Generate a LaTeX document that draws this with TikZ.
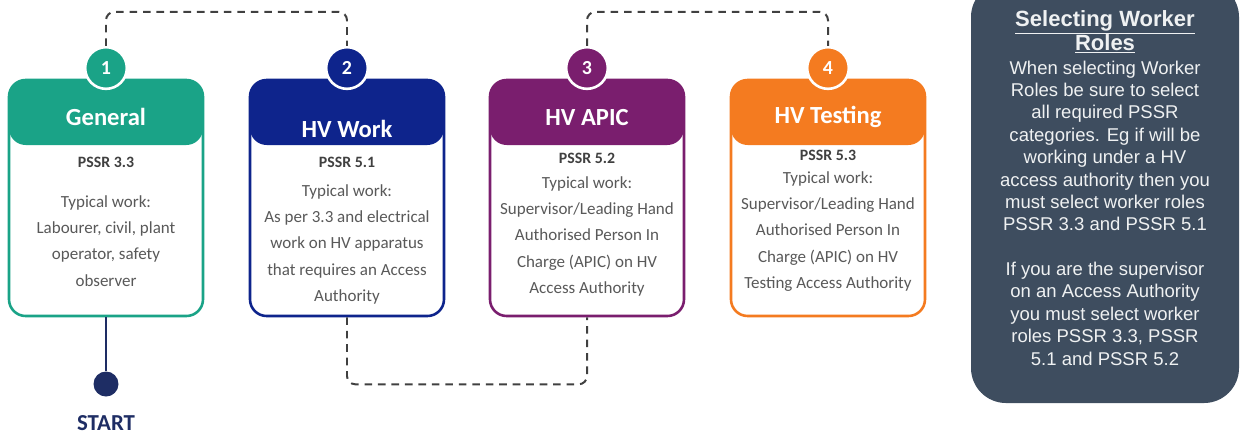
\documentclass[tikz,border=0pt]{standalone}
\usepackage{fontspec}
\setmainfont{Carlito}
\newfontfamily\panelfont{Liberation Sans}
\usetikzlibrary{calc,positioning}
\definecolor{genteal}{RGB}{26,163,135}
\definecolor{worknavy}{RGB}{14,36,140}
\definecolor{apicpurple}{RGB}{122,30,110}
\definecolor{testorange}{RGB}{244,123,32}
\definecolor{panelslate}{RGB}{62,77,95}
\definecolor{startnavy}{RGB}{30,45,100}
\definecolor{bodygrey}{RGB}{89,89,89}
\definecolor{linkgrey}{RGB}{64,64,64}

\begin{document}
\begin{tikzpicture}[x=0.03cm,y=-0.03cm,
  rolebox/.style={draw=#1, fill=white, line width=2.2pt, rounded corners=0.5cm, minimum width=5.82cm, minimum height=7.08cm, inner sep=0pt,
    path picture={\fill[#1] (path picture bounding box.north west) rectangle ($(path picture bounding box.north east)+(0,65)$);}},
  numcircle/.style={circle, fill=#1, draw=white, line width=2.2pt, minimum size=1.25cm, inner sep=0pt, text=white, font=\fontsize{17}{17}\selectfont\bfseries},
  headtext/.style={anchor=base, inner sep=0pt, text=white, font=\fontsize{21}{24}\selectfont\bfseries},
  pssrtext/.style={anchor=base, inner sep=0pt, text=linkgrey, font=\fontsize{13.5}{16}\selectfont\bfseries},
  bodytext/.style={anchor=north, align=center, inner sep=0pt, text=bodygrey, font=\fontsize{14.5}{22.5}\selectfont},
  link/.style={draw=linkgrey, line width=1.7pt, dash pattern=on 6.5pt off 5pt, rounded corners=0.25cm}]
        \useasboundingbox (0,0) rectangle (1247,434);
        %Boxes
        \node[rolebox=genteal] (box1) at (106,198) {};
        \node[rolebox=worknavy] (box2) at (347,198) {};
        \node[rolebox=apicpurple] (box3) at (587,198) {};
        \node[rolebox=testorange] (box4) at (828,198) {};
        %Circles
        \node[numcircle=genteal] (c1) at (106,68) {1};
        \node[numcircle=worknavy] (c2) at (347,68) {2};
        \node[numcircle=apicpurple] (c3) at (587,68) {3};
        \node[numcircle=testorange] (c4) at (828,68) {4};
        %Headers
        \node[headtext] (h1) at (106,125) {General};
        \node[headtext] (h2) at (347,137) {HV Work};
        \node[headtext] (h3) at (587,125) {HV APIC};
        \node[headtext] (h4) at (828,123) {HV Testing};
        %PSSR + Textes
        \node[pssrtext] (p1) at (106,167) {PSSR 3.3};
        \node[pssrtext] (p2) at (347,167) {PSSR 5.1};
        \node[pssrtext] (p3) at (587,163) {PSSR 5.2};
        \node[pssrtext] (p4) at (828,160) {PSSR 5.3};
        \node[bodytext] (b1) at (106,195) {Typical work:\\Labourer, civil, plant\\operator, safety\\observer};
        \node[bodytext] (b2) at (347,184) {Typical work:\\As per 3.3 and electrical\\work on HV apparatus\\that requires an Access\\Authority};
        \node[bodytext] (b3) at (587,176) {Typical work:\\Supervisor/Leading Hand\\Authorised Person In\\Charge (APIC) on HV\\Access Authority};
        \node[bodytext] (b4) at (828,171) {Typical work:\\Supervisor/Leading Hand\\Authorised Person In\\Charge (APIC) on HV\\Testing Access Authority};
        %Start
        \node[circle, fill=startnavy, minimum size=0.75cm, inner sep=0pt] (dot) at (106,384) {};
        \node[anchor=base, inner sep=0pt, text=startnavy, font=\fontsize{19.5}{22}\selectfont\bfseries] (start) at (106,430) {START};
        \draw[startnavy, line width=2.2pt] (box1.south) -- (dot);
        %Traits pointilles
        \draw[link] (c1.north) -- ++(0,-34) -| (c2.north);
        \draw[link] (box2.south) -- ++(0,67) -| (box3.south);
        \draw[link] (c3.north) -- ++(0,-34) -| (c4.north);
        %Panneau
        \node[fill=panelslate, rounded corners=1.05cm, minimum width=8.04cm, minimum height=12.63cm] (panel) at (1105,192.5) {};
        \node[align=center, inner sep=0pt, text=white!92!panelslate, font=\panelfont\fontsize{18.8}{20.5}\selectfont\bfseries] (ptitle) at (1105,32) {\underline{Selecting Worker}\\\underline{Roles}};
        \node[below=6pt of ptitle, align=center, inner sep=0pt, text=white!92!panelslate, font=\panelfont\fontsize{15.8}{19.1}\selectfont] (ptext) {When selecting Worker\\Roles be sure to select\\all required PSSR\\categories. Eg if will be\\working under a HV\\access authority then you\\must select worker roles\\PSSR 3.3 and PSSR 5.1\\[19.1pt]If you are the supervisor\\on an Access Authority\\you must select worker\\roles PSSR 3.3, PSSR\\5.1 and PSSR 5.2};
\end{tikzpicture}
\end{document}
